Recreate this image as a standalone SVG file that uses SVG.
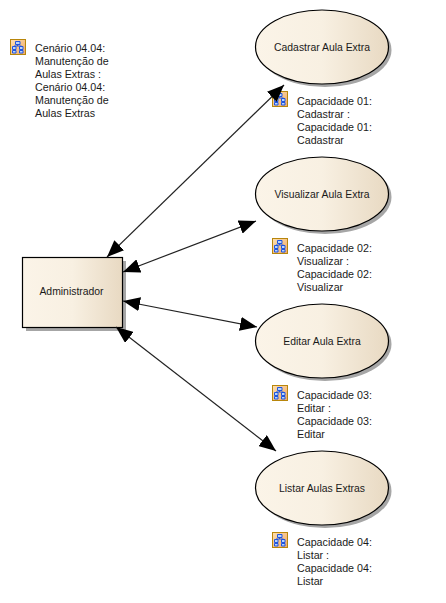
<svg xmlns="http://www.w3.org/2000/svg" width="446" height="603" viewBox="0 0 446 603">
<style>
text{font-family:"Liberation Sans",Arial,sans-serif;font-size:10.7px;fill:#1a1a1a}
.c{text-anchor:middle;font-size:10.4px}
.s{fill:#a6a6a6;stroke:none}
.n{fill:url(#g);stroke:#000;stroke-width:1.2}
.l{stroke:#222;stroke-width:1.2;fill:none;marker-start:url(#as);marker-end:url(#ae)}
</style>
<defs>
<linearGradient id="g" x1="0" x2="1" y1="0" y2="0"><stop offset="0" stop-color="#fbf4e8"/><stop offset="0.5" stop-color="#f8f0e2"/><stop offset="1" stop-color="#e8d9c2"/></linearGradient>
<linearGradient id="ig" x1="0" x2="1" y1="0" y2="1"><stop offset="0" stop-color="#fde0b0"/><stop offset="1" stop-color="#f0a868"/></linearGradient>
<marker id="ae" viewBox="0 0 17 14" refX="17" refY="7" markerWidth="17" markerHeight="14" markerUnits="userSpaceOnUse" orient="auto"><path d="M17 7L0 0V14Z" fill="#000"/></marker>
<marker id="as" viewBox="0 0 17 14" refX="0" refY="7" markerWidth="17" markerHeight="14" markerUnits="userSpaceOnUse" orient="auto"><path d="M0 7L17 0V14Z" fill="#000"/></marker>
<g id="icon">
<rect x="0.5" y="0.5" width="15" height="15" fill="url(#ig)" stroke="#b8860b"/>
<path d="M5.5 2.5h4.5v3H5.500zM2.500 7.500h3.500v3H2.500zM9.500 7.500h3.500v3H9.500zM2.500 11.500h3.500v2.500H2.500zM9.500 11.500h3.500v2.500H9.500z" fill="#b8d4fa" stroke="#1f55e0" stroke-width="1"/>
<path d="M7.500 5.500V7M4 7h7.500M4 7v.5M11.500 7v.5" stroke="#1f55e0" stroke-width="1" fill="none"/>
</g>
</defs>
<g id="scenario">
<use href="#icon" x="10" y="39"/>
<text x="35" y="52">Cenário 04.04:</text><text x="35" y="65">Manutenção de</text><text x="35" y="78">Aulas Extras :</text><text x="35" y="91">Cenário 04.04:</text><text x="35" y="104">Manutenção de</text><text x="35" y="117">Aulas Extras</text>
</g>
<g id="administrador">
<rect class="s" x="26" y="261" width="100" height="70"/>
<rect class="n" x="22.500" y="257.500" width="100" height="70"/>
<text class="c" x="71.500" y="295">Administrador</text>
</g>
<g id="cadastrar">
<ellipse class="s" cx="325" cy="50" rx="66.500" ry="37"/>
<ellipse class="n" cx="322" cy="47" rx="66.500" ry="37"/>
<text class="c" x="322" y="51">Cadastrar Aula Extra</text>
</g>
<g id="cap01">
<use href="#icon" x="272" y="91"/>
<text x="297" y="105">Capacidade 01:</text><text x="297" y="118">Cadastrar :</text><text x="297" y="131">Capacidade 01:</text><text x="297" y="144">Cadastrar</text>
</g>
<g id="visualizar">
<ellipse class="s" cx="325" cy="197" rx="66.500" ry="37"/>
<ellipse class="n" cx="322" cy="194" rx="66.500" ry="37"/>
<text class="c" x="322" y="198">Visualizar Aula Extra</text>
</g>
<g id="cap02">
<use href="#icon" x="272" y="238"/>
<text x="297" y="252">Capacidade 02:</text><text x="297" y="265">Visualizar :</text><text x="297" y="278">Capacidade 02:</text><text x="297" y="291">Visualizar</text>
</g>
<g id="editar">
<ellipse class="s" cx="325" cy="344" rx="66.500" ry="37"/>
<ellipse class="n" cx="322" cy="341" rx="66.500" ry="37"/>
<text class="c" x="322" y="345">Editar Aula Extra</text>
</g>
<g id="cap03">
<use href="#icon" x="272" y="385"/>
<text x="297" y="399">Capacidade 03:</text><text x="297" y="412">Editar :</text><text x="297" y="425">Capacidade 03:</text><text x="297" y="438">Editar</text>
</g>
<g id="listar">
<ellipse class="s" cx="325" cy="491" rx="66.500" ry="37"/>
<ellipse class="n" cx="322" cy="488" rx="66.500" ry="37"/>
<text class="c" x="322" y="492">Listar Aulas Extras</text>
</g>
<g id="cap04">
<use href="#icon" x="272" y="532"/>
<text x="297" y="546">Capacidade 04:</text><text x="297" y="559">Listar :</text><text x="297" y="572">Capacidade 04:</text><text x="297" y="585">Listar</text>
</g>
<g id="connectors">
<path class="l" d="M107 257L284 85"/>
<path class="l" d="M123 272L256 221"/>
<path class="l" d="M123 301L257 327"/>
<path class="l" d="M116 327L276 451"/>
</g>
</svg>
